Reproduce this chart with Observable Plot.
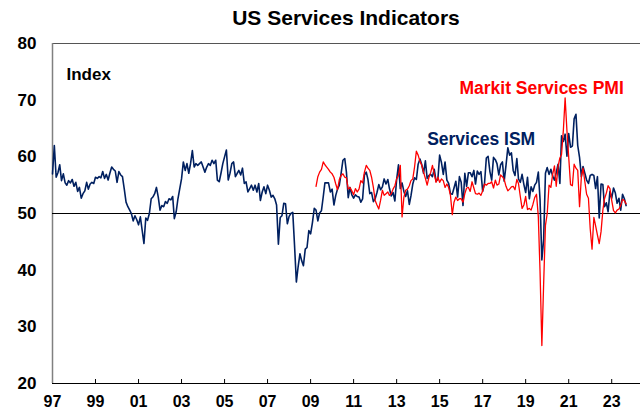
<!DOCTYPE html>
<html>
<head>
<meta charset="utf-8">
<script src="https://cdn.jsdelivr.net/npm/d3@7"></script>
<script src="https://cdn.jsdelivr.net/npm/@observablehq/plot@0.6"></script>
<style>
  body { margin: 0; background: #fff; font-family: "Liberation Sans", Arial, sans-serif; }
  #title { height: 35px; line-height: 36px; padding-left: 52px; text-align: center;
           font-weight: bold; font-size: 21px; color: #000; }
  #chart svg { display: block; }
</style>
</head>
<body>
<div id="title">US Services Indicators</div>
<div id="chart"></div>
<script>
// ---- Data (monthly) ----
const ismStart = "1997-07-01";      // Services ISM, first month
const markitStart = "2009-10-01";   // Markit Services PMI, first month

const ismValues = [
  // 1997 (Jul-Dec)
  57.0, 62.0, 56.4, 57.2, 58.6, 55.8,
  // 1998
  57.0, 55.4, 55.0, 55.8, 55.4, 56.0, 54.8, 55.5, 53.9, 54.6, 52.7, 53.5,
  // 1999
  54.0, 55.5, 54.3, 55.2, 55.5, 55.3, 56.4, 56.2, 56.5, 56.3, 57.4, 56.2,
  // 2000
  56.9, 55.9, 57.1, 58.2, 57.8, 57.5, 55.5, 57.4, 56.8, 56.5, 54.3, 52.0,
  // 2001
  51.2, 50.6, 50.0, 48.7, 49.6, 48.9, 48.0, 49.4, 47.0, 44.7, 49.2, 48.8,
  // 2002
  50.0, 52.6, 52.9, 53.5, 54.6, 52.9, 50.6, 51.4, 51.2, 52.1, 51.8, 52.6,
  // 2003
  52.4, 53.0, 49.1, 50.3, 52.6, 54.4, 56.1, 59.1, 57.6, 58.8, 57.1, 58.8,
  // 2004
  61.1, 58.2, 58.8, 58.5, 58.8, 59.1, 58.2, 57.3, 58.2, 58.8, 58.5, 59.4,
  // 2005
  58.8, 59.4, 55.9, 55.6, 57.1, 58.8, 60.0, 61.2, 55.9, 57.1, 58.8, 59.1,
  // 2006
  56.5, 57.1, 57.6, 56.8, 58.0, 55.3, 55.6, 53.8, 54.4, 55.0, 54.1, 55.0,
  // 2007
  53.8, 55.3, 52.3, 53.8, 54.7, 53.5, 55.0, 54.1, 52.9, 53.2, 52.6, 51.5,
  // 2008
  44.6, 49.3, 49.6, 51.8, 51.7, 48.2, 49.5, 50.0, 50.2, 44.4, 37.9, 40.6,
  // 2009
  42.9, 41.6, 40.8, 43.7, 44.0, 47.0, 46.4, 48.4, 50.9, 50.6, 48.7, 50.1,
  // 2010
  50.5, 53.0, 55.4, 55.4, 55.4, 53.8, 54.3, 51.5, 53.2, 54.3, 55.0, 57.1,
  // 2011
  59.4, 59.7, 57.3, 52.8, 54.6, 53.3, 52.7, 53.3, 53.0, 52.9, 52.0, 52.6,
  // 2012
  56.8, 57.3, 56.0, 53.5, 53.7, 52.1, 52.6, 53.7, 55.1, 54.2, 54.7, 56.1,
  // 2013
  55.2, 56.0, 54.4, 53.1, 53.7, 52.2, 56.0, 58.6, 54.4, 55.4, 53.9, 53.0,
  // 2014
  54.0, 51.6, 53.1, 55.2, 56.3, 56.0, 58.7, 59.6, 58.6, 57.1, 59.3, 56.2,
  // 2015
  56.7, 56.9, 56.5, 57.8, 55.7, 56.0, 60.3, 59.0, 56.9, 59.1, 55.9, 55.3,
  // 2016
  53.5, 53.4, 54.5, 55.7, 52.9, 56.5, 55.5, 51.4, 57.1, 54.8, 57.2, 57.2,
  // 2017
  56.5, 57.6, 55.2, 57.5, 56.9, 57.4, 53.9, 55.3, 59.8, 60.1, 57.4, 55.9,
  // 2018
  59.9, 59.5, 58.8, 56.8, 58.6, 59.1, 55.7, 58.5, 61.6, 60.3, 60.7, 57.6,
  // 2019
  56.7, 59.7, 56.1, 55.5, 56.9, 55.1, 53.7, 56.4, 52.6, 54.7, 53.9, 55.0,
  // 2020
  55.5, 57.3, 52.5, 41.8, 45.4, 57.1, 58.1, 56.9, 57.8, 56.6, 55.9, 57.2,
  // 2021
  58.7, 55.3, 63.7, 62.7, 64.0, 60.1, 64.1, 61.7, 61.9, 66.7, 67.5, 62.0,
  // 2022
  59.9, 56.5, 58.3, 57.1, 55.9, 55.3, 56.7, 56.9, 56.7, 54.4, 56.5, 49.2,
  // 2023
  55.2, 55.1, 51.2, 51.9, 50.3, 53.9, 52.7, 54.5, 53.6, 51.8, 52.7, 50.6,
  // 2024 (Jan-Mar)
  53.4, 52.6, 51.4
];

const markitValues = [
  // 2009 (Oct-Dec)
  54.8, 56.5, 57.3,
  // 2010
  57.8, 59.1, 58.6, 58.2, 57.8, 57.3, 57.0, 56.4, 55.2, 54.2, 56.0, 56.7,
  // 2011
  57.0, 56.4, 56.3, 54.3, 54.6, 54.0, 53.3, 54.4, 53.8, 54.3, 55.8, 55.4,
  // 2012
  57.3, 58.5, 58.0, 57.6, 56.4, 54.6, 52.3, 51.5, 50.8, 52.3, 54.1, 53.2,
  // 2013
  53.5, 53.8, 53.2, 53.5, 54.3, 54.9, 56.1, 56.7, 58.5, 49.4, 52.9, 54.1,
  // 2014
  54.3, 54.9, 55.8, 56.1, 58.2, 61.0, 60.3, 59.2, 58.5, 57.3, 56.2, 55.0,
  // 2015
  56.4, 57.3, 58.5, 57.0, 55.5, 56.4, 55.5, 56.1, 55.8, 54.6, 55.2, 54.6,
  // 2016
  53.2, 49.8, 52.0, 52.9, 52.3, 52.6, 52.6, 52.0, 53.5, 54.5, 54.6, 53.9,
  // 2017
  55.6, 54.5, 53.5, 53.4, 53.6, 53.2, 54.0, 55.2, 55.0, 55.3, 55.3, 55.6,
  // 2018
  54.5, 55.9, 55.0, 55.2, 56.8, 56.5, 56.0, 54.8, 54.0, 54.3, 54.7, 54.8,
  // 2019
  54.2, 56.0, 55.3, 53.0, 50.9, 51.5, 53.0, 50.7, 50.9, 50.6, 51.6, 52.8,
  // 2020
  53.4, 49.4, 39.8, 26.7, 37.5, 47.9, 50.0, 55.0, 54.6, 56.9, 58.4, 54.8,
  // 2021
  58.3, 59.8, 60.4, 64.7, 70.4, 64.6, 59.9, 55.1, 54.9, 58.7, 58.0, 57.6,
  // 2022
  51.2, 56.5, 58.0, 55.6, 53.4, 52.7, 47.3, 43.7, 49.3, 47.8, 46.2, 44.7,
  // 2023
  46.8, 50.6, 52.6, 53.6, 54.9, 54.4, 52.3, 50.5, 50.1, 50.6, 50.8, 51.4,
  // 2024 (Jan-Mar)
  52.5, 52.3, 51.7
];

// Axis ticks: labels every two years (at the July of odd years, as in the source)
const xTickDates = ["1997-07-01","1999-07-01","2001-07-01","2003-07-01","2005-07-01",
  "2007-07-01","2009-07-01","2011-07-01","2013-07-01","2015-07-01","2017-07-01",
  "2019-07-01","2021-07-01","2023-07-01"];
const yTicks = [20, 30, 40, 50, 60, 70, 80];
const referenceLevel = [50];

const seriesNames = ["Services ISM", "Markit Services PMI"];
const seriesColors = ["#002060", "#ff0000"];

// ---- Build tables ----
const parse = d3.utcParse("%Y-%m-%d");
function toRows(start, values) {
  const s = parse(start);
  return values.map((v, i) => ({date: d3.utcMonth.offset(s, i), value: v}));
}
const ism = toRows(ismStart, ismValues);
const markit = toRows(markitStart, markitValues);
const xTicks = xTickDates.map(parse);

// label anchors (data space)
const labels = [
  {name: seriesNames[1], date: parse("2016-06-01"), value: 72.0, color: seriesColors[1]},
  {name: seriesNames[0], date: parse("2014-12-01"), value: 63.0, color: seriesColors[0]}
];

const xDomain = [parse("1997-07-01"), parse("2024-11-01")];

const chart = Plot.plot({
  width: 640,
  height: 374,
  marginTop: 8,
  marginBottom: 26,
  marginLeft: 52,
  marginRight: 0,
  style: {fontFamily: "'Liberation Sans', Arial, sans-serif", fontSize: "17px", fontWeight: "bold", color: "#000", background: "#fff"},
  x: {type: "utc", domain: xDomain, label: null},
  y: {domain: [20, 80], label: null},
  marks: [
    Plot.axisX(xTicks, {tickSize: 0, tickPadding: 12, tickFormat: d3.utcFormat("%y"), fontSize: 16, fontWeight: "bold", label: null}),
    Plot.axisY(yTicks, {tickSize: 0, tickPadding: 16, fontSize: 17, fontWeight: "bold", label: null}),
    // frame lines
    Plot.ruleY([80], {stroke: "#555", strokeWidth: 1}),
    Plot.ruleX([xDomain[0]], {stroke: "#808080", strokeWidth: 1.5}),
    // reference line
    Plot.ruleY(referenceLevel, {stroke: "#000", strokeWidth: 1}),
    // series
    Plot.line(ism, {x: "date", y: "value", stroke: seriesColors[0], strokeWidth: 1.6}),
    Plot.line(markit, {x: "date", y: "value", stroke: seriesColors[1], strokeWidth: 1.3}),
    // bottom axis line and inward ticks
    Plot.ruleY([20], {stroke: "#000", strokeWidth: 1.2}),
    Plot.ruleX(xTicks.slice(1), {stroke: "#000", strokeWidth: 1, insetTop: 336}),
    // texts
    Plot.text(["Index"], {frameAnchor: "top-left", dx: 14, dy: 24, textAnchor: "start", fontSize: 17, fontWeight: "bold", fill: "#000"}),
    Plot.text(labels, {x: "date", y: "value", text: "name", fill: "color", textAnchor: "start", fontSize: 17.5, fontWeight: "bold"})
  ]
});
document.getElementById("chart").appendChild(chart);
</script>
</body>
</html>
